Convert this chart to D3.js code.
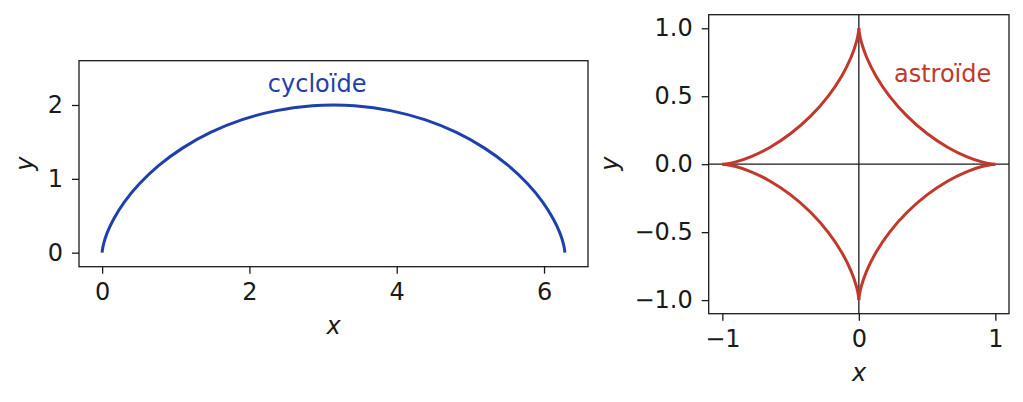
<!DOCTYPE html>
<html>
<head>
<meta charset="utf-8">
<script src="https://cdn.jsdelivr.net/npm/d3@7"></script>
<style>
  body { margin: 0; background: #fff; }
  text { font-family: "DejaVu Sans", sans-serif; }
</style>
</head>
<body>
<div class="canvas"></div>
<script>
// cycloid points
const cycloidX = [0, 0.003, 0.021, 0.068, 0.159, 0.301, 0.503, 0.766, 1.091, 1.472, 1.902, 2.368, 2.859, 3.142,
  3.424, 3.915, 4.381, 4.811, 5.192, 5.517, 5.780, 5.982, 6.124, 6.215, 6.262, 6.280, 6.283];
const cycloidY = [0, 0.031, 0.122, 0.268, 0.460, 0.685, 0.929, 1.178, 1.416, 1.628, 1.801, 1.924, 1.990, 2.000,
  1.990, 1.924, 1.801, 1.628, 1.416, 1.178, 0.929, 0.685, 0.460, 0.268, 0.122, 0.031, 0];

// astroid points (cusps at index 0, 12, 24, 36, 48)
const astroidX = [1, 0.9745, 0.9012, 0.7886, 0.6495, 0.4994, 0.3536, 0.2256, 0.125, 0.056, 0.0173, 0.0022, 0,
  -0.0022, -0.0173, -0.056, -0.125, -0.2256, -0.3536, -0.4994, -0.6495, -0.7886, -0.9012, -0.9745, -1,
  -0.9745, -0.9012, -0.7886, -0.6495, -0.4994, -0.3536, -0.2256, -0.125, -0.056, -0.0173, -0.0022, 0,
  0.0022, 0.0173, 0.056, 0.125, 0.2256, 0.3536, 0.4994, 0.6495, 0.7886, 0.9012, 0.9745, 1];
const astroidY = [0, 0.0022, 0.0173, 0.056, 0.125, 0.2256, 0.3536, 0.4994, 0.6495, 0.7886, 0.9012, 0.9745, 1,
  0.9745, 0.9012, 0.7886, 0.6495, 0.4994, 0.3536, 0.2256, 0.125, 0.056, 0.0173, 0.0022, 0,
  -0.0022, -0.0173, -0.056, -0.125, -0.2256, -0.3536, -0.4994, -0.6495, -0.7886, -0.9012, -0.9745, -1,
  -0.9745, -0.9012, -0.7886, -0.6495, -0.4994, -0.3536, -0.2256, -0.125, -0.056, -0.0173, -0.0022, 0];

// tick values
const cycloidXTicks = [0, 2, 4, 6];
const cycloidYTicks = [0, 1, 2];
const astroidXTicks = [-1, 0, 1];
const astroidYTicks = [-1, -0.5, 0, 0.5, 1];

const blue = '#1f40ab';
const red = '#c0392b';
const ink = '#1a1a1a';
const fontSize = 24;

const svg = d3.select('.canvas').append('svg')
  .attr('width', 1023)
  .attr('height', 402);

const minus = s => s.replace('-', '\u2212');

// draws one panel frame with axes, returns the scales
const panel = (box, xDomain, yDomain, xTicks, yTicks, yFormat) => {
  const x = d3.scaleLinear().domain(xDomain).range([box.left, box.right]);
  const y = d3.scaleLinear().domain(yDomain).range([box.bottom, box.top]);

  const xAxis = d3.axisBottom(x).tickValues(xTicks).tickSize(7).tickPadding(9)
    .tickFormat(d => minus(d3.format('d')(d)));
  const yAxis = d3.axisLeft(y).tickValues(yTicks).tickSize(7).tickPadding(9)
    .tickFormat(d => minus(yFormat(d)));

  const gx = svg.append('g').attr('transform', `translate(0, ${box.bottom})`).call(xAxis);
  const gy = svg.append('g').attr('transform', `translate(${box.left}, 0)`).call(yAxis);
  [gx, gy].forEach(g => {
    g.select('.domain').remove();
    g.selectAll('line').attr('stroke', ink).attr('stroke-width', 1.3);
    g.selectAll('text').attr('fill', ink).attr('font-size', fontSize)
      .attr('font-family', '"DejaVu Sans", sans-serif');
  });

  svg.append('rect')
    .attr('x', box.left).attr('y', box.top)
    .attr('width', box.right - box.left).attr('height', box.bottom - box.top)
    .attr('fill', 'none').attr('stroke', ink).attr('stroke-width', 1.3);

  return { x, y };
};

// left panel: cycloid
const left = panel({ left: 79, right: 588, top: 60.7, bottom: 266.7 },
  [-0.314, 6.597], [-0.19, 2.6], cycloidXTicks, cycloidYTicks, d3.format('d'));

const cycloid = cycloidX.map((d, i) => [d, cycloidY[i]]);
svg.append('path')
  .datum(cycloid)
  .attr('d', d3.line()
    .x(d => left.x(d[0]))
    .y(d => left.y(d[1]))
    .curve(d3.curveCatmullRom.alpha(0.5)))
  .attr('fill', 'none')
  .attr('stroke', blue)
  .attr('stroke-width', 3);

svg.append('text')
  .attr('x', left.x(2.92)).attr('y', left.y(2.18))
  .attr('text-anchor', 'middle')
  .attr('font-size', fontSize)
  .attr('fill', blue)
  .text('cycloïde');

// right panel: astroid
const right = panel({ left: 708.7, right: 1009, top: 14.7, bottom: 313.7 },
  [-1.1, 1.1], [-1.1, 1.1], astroidXTicks, astroidYTicks, d3.format('.1f'));

// zero lines
svg.append('line')
  .attr('x1', right.x(-1.1)).attr('x2', right.x(1.1))
  .attr('y1', right.y(0)).attr('y2', right.y(0))
  .attr('stroke', ink).attr('stroke-width', 1.3);
svg.append('line')
  .attr('x1', right.x(0)).attr('x2', right.x(0))
  .attr('y1', right.y(-1.1)).attr('y2', right.y(1.1))
  .attr('stroke', ink).attr('stroke-width', 1.3);

// one arc per quadrant so the cusps stay sharp
const astroidArcs = [0, 12, 24, 36].map(s =>
  d3.range(s, s + 13).map(i => [astroidX[i], astroidY[i]]));

svg.selectAll('.astroid')
  .data(astroidArcs)
  .enter().append('path')
  .attr('class', 'astroid')
  .attr('d', d3.line()
    .x(d => right.x(d[0]))
    .y(d => right.y(d[1]))
    .curve(d3.curveCatmullRom.alpha(0.5)))
  .attr('fill', 'none')
  .attr('stroke', red)
  .attr('stroke-width', 3);

svg.append('text')
  .attr('x', right.x(0.257)).attr('y', right.y(0.607))
  .attr('font-size', fontSize)
  .attr('fill', red)
  .text('astroïde');

// axis labels
const axisLabel = (x, y, txt, rotate) => {
  svg.append('text')
    .attr('transform', `translate(${x}, ${y})` + (rotate ? ' rotate(-90)' : ''))
    .attr('text-anchor', 'middle')
    .attr('font-size', fontSize)
    .attr('font-style', 'italic')
    .attr('fill', ink)
    .text(txt);
};
axisLabel(333.5, 334, 'x');
axisLabel(33, 163.7, 'y', true);
axisLabel(859, 381, 'x');
axisLabel(618, 163.7, 'y', true);
</script>
</body>
</html>
